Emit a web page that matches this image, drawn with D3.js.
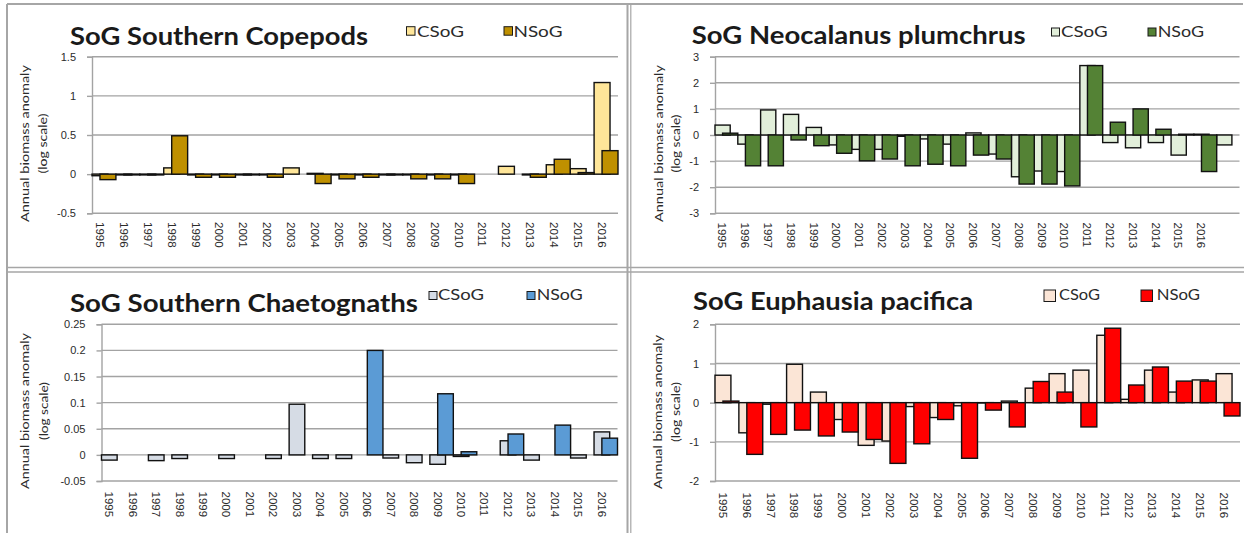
<!DOCTYPE html>
<html>
<head>
<meta charset="utf-8">
<script src="https://cdn.jsdelivr.net/npm/d3@7/dist/d3.min.js"></script>
<style>
    body { margin: 0; background: #fff; }
    svg { display: block; font-family: Lato, "Open Sans", sans-serif; }
</style>
</head>
<body>
<svg width="1244" height="533"></svg>
<script>
const years = ['1995', '1996', '1997', '1998', '1999', '2000', '2001', '2002', '2003', '2004', '2005',
    '2006', '2007', '2008', '2009', '2010', '2011', '2012', '2013', '2014', '2015', '2016']
// the Neocalanus panel has one extra, unlabelled category at the end
const yearsNeocalanus = years.concat([''])
const seriesNames = ['CSoG', 'NSoG']

const copepodsCSoG = [-0.02, -0.01, -0.01, 0.08, -0.01, -0.01, -0.01, -0.01, 0.08, 0.01, -0.01,
    -0.01, -0.01, -0.01, -0.01, -0.01, null, 0.1, -0.01, 0.12, 0.07, 1.17]
const copepodsNSoG = [-0.07, -0.01, -0.01, 0.49, -0.04, -0.04, -0.01, -0.04, null, -0.12, -0.06,
    -0.04, -0.01, -0.06, -0.06, -0.12, null, null, -0.04, 0.19, 0.02, 0.3]
const copepodsTicks = [-0.5, 0, 0.5, 1, 1.5]

const neocalanusCSoG = [0.38, -0.35, 0.96, 0.79, 0.29, -0.38, -0.55, -0.55, -0.05, -0.15, -0.35,
    0.08, -0.73, -1.6, -1.38, -1.4, 2.66, -0.29, -0.49, -0.29, -0.77, 0.03, -0.38]
const neocalanusNSoG = [0.07, -1.18, -1.18, -0.19, -0.41, -0.7, -0.99, -0.92, -1.18, -1.12, -1.18,
    -0.77, -0.92, -1.88, -1.88, -1.95, 2.66, 0.49, 1.0, 0.22, 0.03, -1.4, null]
const neocalanusTicks = [-3, -2, -1, 0, 1, 2, 3]

const chaetognathsCSoG = [-0.01, null, -0.011, -0.007, null, -0.007, null, -0.007, 0.097, -0.007, -0.007,
    null, -0.006, -0.015, -0.018, -0.003, null, 0.027, -0.01, null, -0.006, 0.044]
const chaetognathsNSoG = [null, null, null, null, null, null, null, null, null, null, null,
    0.2, null, null, 0.117, 0.006, null, 0.04, null, 0.057, null, 0.032]
const chaetognathsTicks = [-0.05, 0, 0.05, 0.1, 0.15, 0.2, 0.25]

const euphausiaCSoG = [0.7, -0.77, -0.04, 0.98, 0.27, -0.43, -1.09, -0.98, -0.1, -0.38, -0.08,
    -0.01, 0.04, 0.37, 0.74, 0.83, 1.72, 0.085, 0.83, 0.27, 0.58, 0.74]
const euphausiaNSoG = [0.04, -1.32, -0.81, -0.7, -0.85, -0.75, -0.94, -1.55, -1.05, -0.43, -1.42,
    -0.19, -0.62, 0.54, 0.27, -0.62, 1.9, 0.45, 0.91, 0.55, 0.55, -0.34]
const euphausiaTicks = [-2, -1, 0, 1, 2]

const gridColor = '#a3a3a3'
const frameColor = '#a6a6a6'
const textColor = '#2b2b2b'

const panels = [
    {
        title: 'SoG Southern Copepods', categories: years,
        values: [copepodsCSoG, copepodsNSoG], ticks: copepodsTicks,
        colors: ['#ffe699', '#bf9000'],
        plot: { x0: 92, x1: 618, y0: 56.7, y1: 213.3 }, labelY: 222,
        titlePos: { x: 70, y: 45, w: 298 },
        legend: { swatchX: [406.5, 504], textX: [417, 513.5], textW: [47, 49], swatchY: 26.7, size: 8.5, baseline: 36.5 },
        axisTitle: { x1: 25, x2: 43, cy: 143.5, w1: 157, w2: 60 }
    },
    {
        title: 'SoG Neocalanus plumchrus', categories: yearsNeocalanus,
        values: [neocalanusCSoG, neocalanusNSoG], ticks: neocalanusTicks,
        colors: ['#e2efda', '#548235'],
        plot: { x0: 715, x1: 1239.5, y0: 56.7, y1: 213.3 }, labelY: 222.5,
        titlePos: { x: 691.7, y: 43.5, w: 334 },
        legend: { swatchX: [1051.5, 1148], textX: [1061, 1157.7], textW: [46.7, 46.3], swatchY: 28, size: 8, baseline: 37 },
        axisTitle: { x1: 659, x2: 676, cy: 143.5, w1: 157, w2: 58 }
    },
    {
        title: 'SoG Southern Chaetognaths', categories: years,
        values: [chaetognathsCSoG, chaetognathsNSoG], ticks: chaetognathsTicks,
        colors: ['#d6dce5', '#5b9bd5'],
        plot: { x0: 101.5, x1: 617.5, y0: 324.3, y1: 481 }, labelY: 491.5,
        titlePos: { x: 70, y: 311.7, w: 348 },
        legend: { swatchX: [429, 527], textX: [438, 536.7], textW: [46, 46], swatchY: 291.5, size: 8, baseline: 300 },
        axisTitle: { x1: 25.5, x2: 44, cy: 411, w1: 156, w2: 58 }
    },
    {
        title: 'SoG Euphausia pacifica', categories: years,
        values: [euphausiaCSoG, euphausiaNSoG], ticks: euphausiaTicks,
        colors: ['#fbe5d6', '#ff0000'],
        plot: { x0: 715, x1: 1240, y0: 324.3, y1: 481 }, labelY: 492.5,
        titlePos: { x: 693, y: 310, w: 280 },
        legend: { swatchX: [1044, 1141], textX: [1059, 1156.7], textW: [41, 43.3], swatchY: 290, size: 11.5, baseline: 300 },
        axisTitle: { x1: 658.5, x2: 676.5, cy: 412, w1: 154, w2: 60 }
    }
]

const svg = d3.select('svg')

drawFrame()
panels.forEach(drawPanel)

function drawFrame() {
    const frame = svg.append('g').attr('stroke', frameColor).attr('fill', 'none')
    frame.append('line').attr('x1', 7).attr('x2', 1243).attr('y1', 4).attr('y2', 4).attr('stroke-width', 2)
    frame.append('line').attr('x1', 7).attr('x2', 7).attr('y1', 4).attr('y2', 533).attr('stroke-width', 2)
    frame.append('line').attr('x1', 627.5).attr('x2', 627.5).attr('y1', 4).attr('y2', 533).attr('stroke-width', 2)
    frame.append('line').attr('x1', 630.8).attr('x2', 630.8).attr('y1', 4).attr('y2', 533).attr('stroke-width', 1.2)
    frame.append('line').attr('x1', 7).attr('x2', 1244).attr('y1', 267.5).attr('y2', 267.5).attr('stroke-width', 1.6)
    frame.append('line').attr('x1', 7).attr('x2', 1244).attr('y1', 272).attr('y2', 272).attr('stroke-width', 1.6)
}

function drawPanel(p) {
    const g = svg.append('g')

    const x = d3.scaleBand()
        .domain(p.categories)
        .range([p.plot.x0, p.plot.x1])
        .paddingInner(0)
        .paddingOuter(0)

    const y = d3.scaleLinear()
        .domain(d3.extent(p.ticks))
        .range([p.plot.y1, p.plot.y0])

    g.append('g')
        .selectAll('line')
        .data(p.ticks)
        .join('line')
        .attr('x1', p.plot.x0)
        .attr('x2', p.plot.x1)
        .attr('y1', d => y(d))
        .attr('y2', d => y(d))
        .attr('stroke', gridColor)
        .attr('stroke-width', 1.4)

    const yAxis = g.append('g')
        .attr('transform', `translate(${p.plot.x0},0)`)
        .call(d3.axisLeft(y).tickValues(p.ticks).tickSize(5).tickPadding(11).tickFormat(d => String(d)))
    yAxis.select('.domain').attr('stroke', gridColor).attr('stroke-width', 1.4)
    yAxis.selectAll('.tick line').attr('stroke', gridColor).attr('stroke-width', 1.4)
    yAxis.selectAll('text')
        .attr('fill', textColor)
        .style('font-size', '11px')

    // CSoG drawn first, NSoG overlaps it by half a bar
    const bw = x.bandwidth() * 2 / 3
    p.values.forEach((serie, s) => {
        const rows = p.categories
            .map((cat, i) => ({ cat: cat, value: serie[i] }))
            .filter(d => d.value !== null && d.value !== undefined)

        g.append('g')
            .selectAll('rect')
            .data(rows)
            .join('rect')
            .attr('x', d => x(d.cat) + s * x.bandwidth() / 3)
            .attr('width', bw)
            .attr('y', d => y(Math.max(0, d.value)))
            .attr('height', d => Math.abs(y(d.value) - y(0)))
            .attr('fill', p.colors[s])
            .attr('stroke', '#111')
            .attr('stroke-width', 1.4)
    })

    const xAxis = g.append('g')
        .attr('transform', `translate(0,${p.labelY})`)
        .call(d3.axisBottom(x).tickSize(0))
    xAxis.select('.domain').remove()
    xAxis.selectAll('text')
        .attr('transform', 'rotate(90)')
        .attr('text-anchor', 'start')
        .attr('x', 0)
        .attr('y', 4)
        .attr('dy', '0.35em')
        .attr('fill', textColor)
        .style('font-size', '11.5px')

    g.append('text')
        .attr('x', p.titlePos.x)
        .attr('y', p.titlePos.y)
        .attr('textLength', p.titlePos.w)
        .attr('lengthAdjust', 'spacingAndGlyphs')
        .attr('fill', '#1a1a1a')
        .style('font-size', '24px')
        .style('font-weight', 'bold')
        .text(p.title)

    const legend = g.append('g')
    seriesNames.forEach((name, s) => {
        legend.append('rect')
            .attr('x', p.legend.swatchX[s])
            .attr('y', p.legend.swatchY)
            .attr('width', p.legend.size)
            .attr('height', p.legend.size)
            .attr('fill', p.colors[s])
            .attr('stroke', '#1a1a1a')
            .attr('stroke-width', 1)
        legend.append('text')
            .attr('x', p.legend.textX[s])
            .attr('y', p.legend.baseline)
            .attr('textLength', p.legend.textW[s])
            .attr('lengthAdjust', 'spacingAndGlyphs')
            .attr('fill', textColor)
            .style('font-size', '15px')
            .text(name)
    })

    const at = p.axisTitle
    const lines = [['Annual biomass anomaly', at.x1, at.w1], ['(log scale)', at.x2, at.w2]]
    lines.forEach(([label, lx, lw]) => {
        g.append('text')
            .attr('transform', `translate(${lx},${at.cy}) rotate(-90)`)
            .attr('text-anchor', 'middle')
            .attr('dy', '0.35em')
            .attr('textLength', lw)
            .attr('lengthAdjust', 'spacingAndGlyphs')
            .attr('fill', textColor)
            .style('font-size', '11px')
            .text(label)
    })
}
</script>
</body>
</html>
